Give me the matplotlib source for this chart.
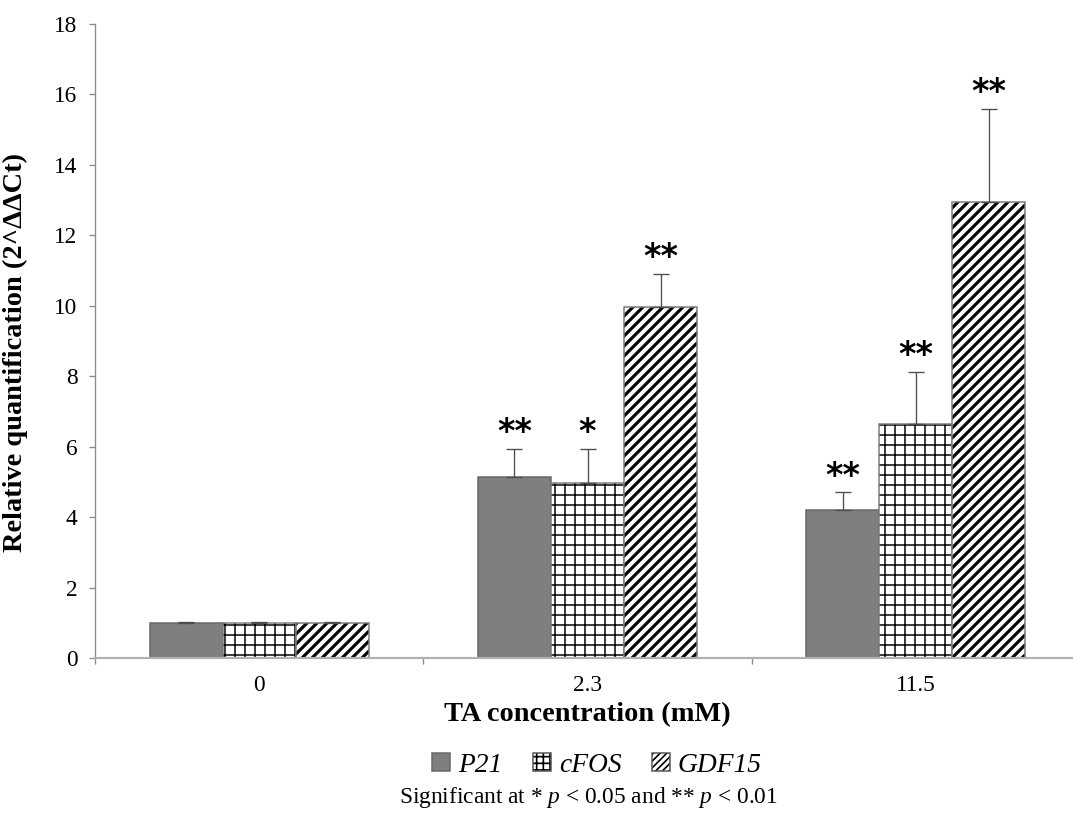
import numpy as np
import matplotlib
matplotlib.use('Agg')
import matplotlib.pyplot as plt
import matplotlib.patches as mpatches
from matplotlib.legend_handler import HandlerTuple

conc = ['0', '2.3', '11.5']
genes = ['P21', 'cFOS', 'GDF15']
p21 = [1.0, 5.15, 4.19]
cfos = [1.0, 4.96, 6.65]
gdf15 = [1.0, 9.96, 12.95]
p21_err = [0.02, 0.78, 0.51]
cfos_err = [0.02, 0.97, 1.48]
gdf15_err = [0.02, 0.95, 2.64]
p21_sig = ['', '**', '**']
cfos_sig = ['', '*', '**']
gdf15_sig = ['', '**', '**']

plt.rcParams['font.family'] = ['Liberation Serif', 'DejaVu Serif']
plt.rcParams['mathtext.fontset'] = 'custom'
plt.rcParams['mathtext.rm'] = 'Liberation Serif'
plt.rcParams['mathtext.it'] = 'Liberation Serif:italic'
plt.rcParams['hatch.linewidth'] = 1.0

DPI = 120
fig = plt.figure(figsize=(1073 / DPI, 814 / DPI), dpi=DPI)
ax = fig.add_axes([95 / 1073, 156 / 814, 985 / 1073, 634 / 814])

x = np.arange(len(conc))
w = 0.2226
vals = [p21, cfos, gdf15]
errs = [p21_err, cfos_err, gdf15_err]
sigs = [p21_sig, cfos_sig, gdf15_sig]
hatches = [None, '++', '////']
leg_hatches = [None, '+++', '//////']
hlw = [1.0, 0.9, 1.9]
handles = []
for i in range(3):
    xs = x + (i - 1) * w
    if hatches[i] is None:
        ax.bar(xs, vals[i], w, color='#7f7f7f', edgecolor='#666666', linewidth=0.9)
        handles.append(mpatches.Patch(facecolor='#7f7f7f', edgecolor='#666666', linewidth=0.9))
    else:
        hb = ax.bar(xs, vals[i], w, color='white', edgecolor='black', linewidth=0,
                    hatch=hatches[i])
        for p in hb:
            if hasattr(p, 'set_hatch_linewidth'):
                p.set_hatch_linewidth(hlw[i])
        ax.bar(xs, vals[i], w, fill=False, edgecolor='#7a7a7a', linewidth=0.9)
        h1 = mpatches.Patch(facecolor='white', edgecolor='black', linewidth=0,
                            hatch=leg_hatches[i])
        if hasattr(h1, 'set_hatch_linewidth'):
            h1.set_hatch_linewidth(hlw[i] * 0.8)
        h2 = mpatches.Patch(fill=False, edgecolor='#555555', linewidth=0.9)
        handles.append((h1, h2))
    ax.errorbar(xs, vals[i], yerr=[np.zeros(3), errs[i]], fmt='none',
                ecolor='#4d4d4d', elinewidth=0.8, capsize=4.8, capthick=0.8)
    for xi, v, e, s in zip(xs, vals[i], errs[i], sigs[i]):
        if s:
            ax.annotate(s, (xi, v + e), xytext=(0, 4), textcoords='offset points',
                        ha='center', va='baseline', fontsize=20, family='DejaVu Sans',
                        fontweight='bold')

ax.set_xlim(-0.5, 2.5)
ax.set_ylim(0, 18)
ax.set_yticks(np.arange(0, 19, 2))
ax.set_xticks(x)
ax.set_xticklabels(conc)
ax.set_xticks([-0.5, 0.5, 1.5, 2.5], minor=True)
ax.tick_params(axis='x', which='major', length=0, pad=10, labelsize=14)
ax.tick_params(axis='x', which='minor', length=3.5, color='#8c8c8c', width=0.8)
ax.tick_params(axis='y', length=3.5, color='#8c8c8c', width=0.8, pad=7, labelsize=14)

for s in ['top', 'right']:
    ax.spines[s].set_visible(False)
ax.spines['left'].set_color('#8c8c8c')
ax.spines['left'].set_linewidth(0.8)
ax.spines['bottom'].set_color('#b0b0b0')
ax.spines['bottom'].set_linewidth(1.3)

ax.set_xlabel('TA concentration (mM)', fontsize=17, fontweight='bold', labelpad=4)
ax.set_ylabel('Relative quantification (2^ΔΔCt)', fontsize=17, fontweight='bold')
ax.yaxis.set_label_coords((28 - 95) / 985, (658 - 352) / 634)

fig.legend(handles, genes, loc='center', bbox_to_anchor=(597 / 1073, 1 - 765 / 814),
           ncol=3, frameon=False, handlelength=0.65, handleheight=0.65,
           handletextpad=0.3, columnspacing=1.1, prop={'style': 'italic', 'size': 16.5},
           handler_map={tuple: HandlerTuple(ndivide=1, pad=0)})
fig.text(588 / 1073, 1 - 797 / 814, 'Significant at * $\\it{p}$ < 0.05 and ** $\\it{p}$ < 0.01',
         ha='center', va='center', fontsize=14)

fig.savefig('out.png', dpi=DPI)
